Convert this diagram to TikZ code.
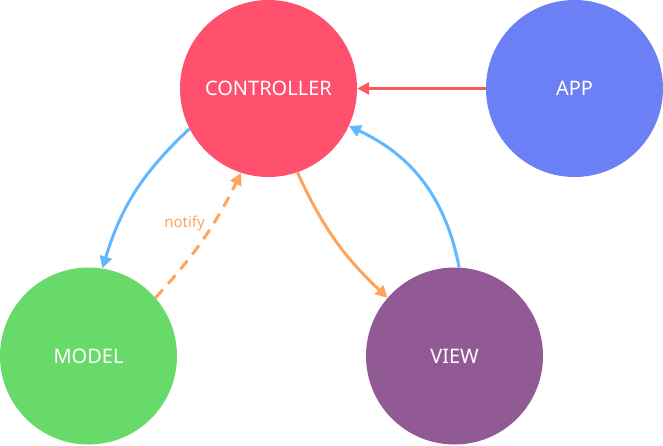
\documentclass[tikz,border=0pt]{standalone}
\usepackage{fontspec}
\setmainfont{Noto Sans}
\usetikzlibrary{arrows.meta}
\definecolor{cctrl}{HTML}{FF506E}
\definecolor{capp}{HTML}{6C80F5}
\definecolor{cmodel}{HTML}{67DA6A}
\definecolor{cview}{HTML}{925A94}
\definecolor{ared}{HTML}{FF5A5A}
\definecolor{ablue}{HTML}{62B8FF}
\definecolor{aorange}{HTML}{FFA45A}
\begin{document}
\begin{tikzpicture}[x=1pt,y=-1pt,
  ball/.style={circle,minimum size=177pt,inner sep=0pt,text=white,font=\fontsize{20}{24}\selectfont},
  conn/.style={line width=3pt,-{Triangle[length=12pt,width=12pt]}},
  lbl/.style={font=\fontsize{15}{18}\selectfont}]
\useasboundingbox (0,0) rectangle (663,445);
\node[ball,fill=cctrl] (C) at (268.5,88.5) {CONTROLLER};
\node[ball,fill=capp] (A) at (574.5,88.5) {APP};
\node[ball,fill=cmodel] (M) at (88.5,356) {MODEL};
\node[ball,fill=cview] (V) at (454.5,356) {VIEW};
\draw[conn,ared] (A.180) -- (C.0);
\draw[conn,ablue] (C.207) to[bend right=15] (M.81);
\draw[conn,aorange] (C.289) to[bend right=11] (V.139);
\draw[conn,ablue] (V.87) to[bend right=27] (C.335);
\draw[conn,aorange,dash pattern=on 11pt off 8pt] (M.41) to[bend right=8] (C.252);
\node[lbl,text=aorange] (N) at (184.5,223.5) {notify};
\end{tikzpicture}
\end{document}
